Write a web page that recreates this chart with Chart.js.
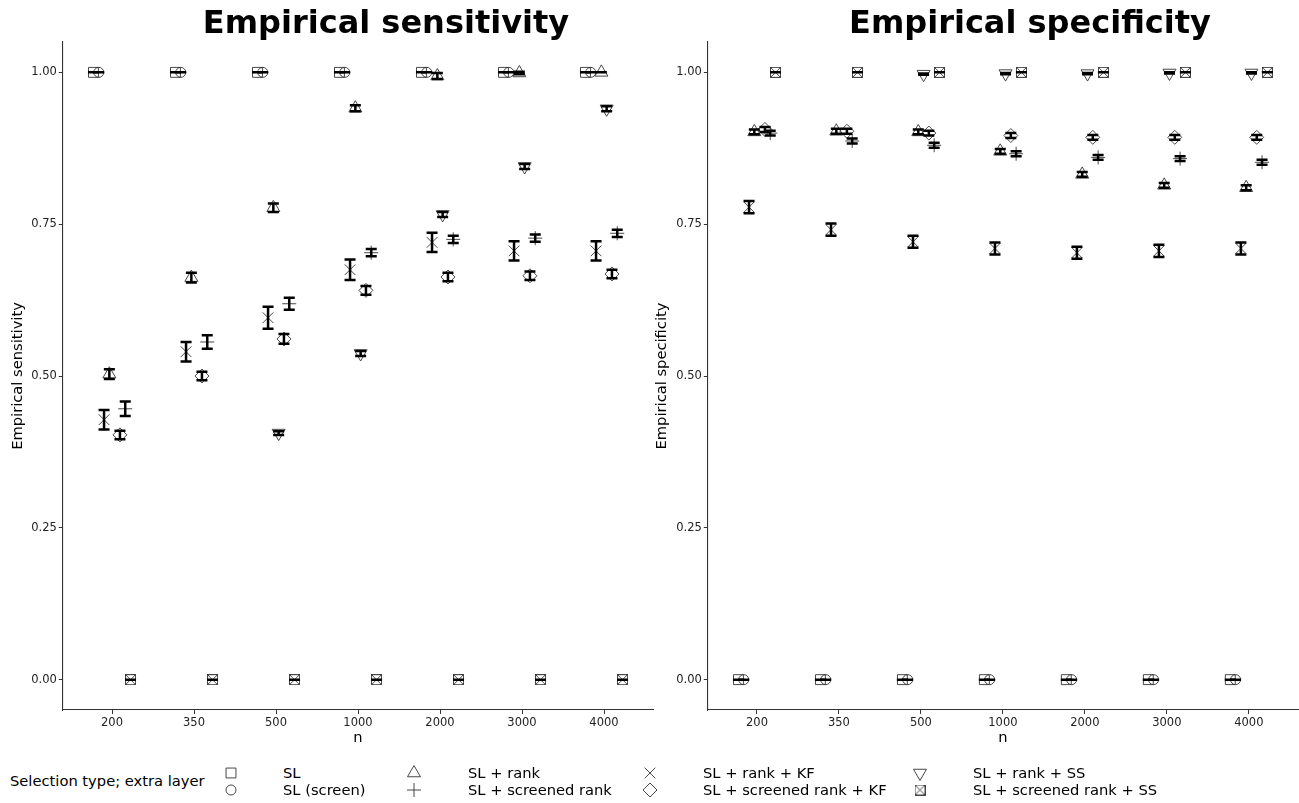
<!DOCTYPE html>
<html>
<head>
<meta charset="utf-8">
<script src="https://cdn.jsdelivr.net/npm/chart.js"></script>
<style>
    body { margin: 0; background: #fff; font-family: 'DejaVu Sans', sans-serif; }
    #page { position: relative; width: 1299px; height: 803px; overflow: hidden; }
    .panel { position: absolute; top: 0; height: 750px; }
    .title { position: absolute; top: 3px; transform: translateX(-50%); font-size: 32px; font-weight: bold; color: #000; white-space: nowrap; }
    .leg { position: absolute; font-size: 14.7px; color: #000; white-space: nowrap; line-height: 16px; }
    .sym { position: absolute; }
</style>
</head>
<body>
<div id="page">
    <div class="panel" style="left:0; width:655px"><canvas id="sens"></canvas></div>
    <div class="panel" style="left:644px; width:655px"><canvas id="spec"></canvas></div>
    <div class="title" style="left:386px">Empirical sensitivity</div>
    <div class="title" style="left:1030px">Empirical specificity</div>
    <div id="legend"></div>
</div>

<script>
    // sample sizes on the x axis
    const nLabels = ['200', '350', '500', '1000', '2000', '3000', '4000'];

    // selection types, in dodge order within each n
    const types = ['SL', 'SL (screen)', 'SL + rank + KF', 'SL + rank', 'SL + rank + SS',
                   'SL + screened rank + KF', 'SL + screened rank', 'SL + screened rank + SS'];

    const yTicks = [0, 0.25, 0.5, 0.75, 1];

    // sensitivity estimates and half-widths of the intervals
    const sensSL        = [1, 1, 1, 1, 1, 1, 1];
    const sensScreen    = [1, 1, 1, 1, 1, 1, 1];
    const sensRankKF    = [0.428, 0.540, 0.596, 0.675, 0.720, 0.706, 0.706];
    const sensRank      = [0.503, 0.662, 0.777, 0.941, 0.994, 0.999, 1.0];
    const sensRankSS    = [null, null, 0.406, 0.537, 0.766, 0.845, 0.940];
    const sensScrKF     = [0.403, 0.500, 0.561, 0.641, 0.663, 0.665, 0.668];
    const sensScr       = [0.446, 0.556, 0.619, 0.703, 0.725, 0.727, 0.735];
    const sensScrSS     = [0, 0, 0, 0, 0, 0, 0];

    const sensSLErr     = [0, 0, 0, 0, 0, 0, 0];
    const sensScreenErr = [0, 0, 0, 0, 0, 0, 0];
    const sensRankKFErr = [0.016, 0.016, 0.018, 0.017, 0.016, 0.016, 0.016];
    const sensRankErr   = [0.008, 0.008, 0.007, 0.005, 0.005, 0.002, 0];
    const sensRankSSErr = [null, null, 0.003, 0.004, 0.004, 0.004, 0.004];
    const sensScrKFErr  = [0.007, 0.007, 0.008, 0.007, 0.007, 0.007, 0.007];
    const sensScrErr    = [0.012, 0.011, 0.010, 0.006, 0.006, 0.006, 0.006];
    const sensScrSSErr  = [0, 0, 0, 0, 0, 0, 0];

    // specificity estimates and half-widths of the intervals
    const specSL        = [0, 0, 0, 0, 0, 0, 0];
    const specScreen    = [0, 0, 0, 0, 0, 0, 0];
    const specRankKF    = [0.778, 0.741, 0.721, 0.710, 0.703, 0.706, 0.710];
    const specRank      = [0.902, 0.903, 0.902, 0.870, 0.832, 0.814, 0.810];
    const specRankSS    = [null, null, 0.997, 0.998, 0.998, 0.999, 0.999];
    const specScrKF     = [0.906, 0.903, 0.900, 0.896, 0.893, 0.893, 0.893];
    const specScr       = [0.900, 0.887, 0.880, 0.866, 0.860, 0.858, 0.852];
    const specScrSS     = [1, 1, 1, 1, 1, 1, 1];

    const specSLErr     = [0, 0, 0, 0, 0, 0, 0];
    const specScreenErr = [0, 0, 0, 0, 0, 0, 0];
    const specRankKFErr = [0.010, 0.010, 0.010, 0.010, 0.010, 0.010, 0.010];
    const specRankErr   = [0.004, 0.004, 0.004, 0.004, 0.004, 0.004, 0.004];
    const specRankSSErr = [null, null, 0.001, 0.001, 0.001, 0.001, 0.001];
    const specScrKFErr  = [0.004, 0.004, 0.004, 0.004, 0.004, 0.004, 0.004];
    const specScrErr    = [0.004, 0.004, 0.004, 0.004, 0.004, 0.004, 0.004];
    const specScrSSErr  = [0, 0, 0, 0, 0, 0, 0];

    const sensVals = [sensSL, sensScreen, sensRankKF, sensRank, sensRankSS, sensScrKF, sensScr, sensScrSS];
    const sensErrs = [sensSLErr, sensScreenErr, sensRankKFErr, sensRankErr, sensRankSSErr, sensScrKFErr, sensScrErr, sensScrSSErr];
    const specVals = [specSL, specScreen, specRankKF, specRank, specRankSS, specScrKF, specScr, specScrSS];
    const specErrs = [specSLErr, specScreenErr, specRankKFErr, specRankErr, specRankSSErr, specScrKFErr, specScrErr, specScrSSErr];

    const ink = '#333';

    // square with an x inside, chart.js has no such point style
    const boxX = (() => {
        const c = document.createElement('canvas');
        c.width = 11; c.height = 11;
        const g = c.getContext('2d');
        g.strokeStyle = ink;
        g.lineWidth = 0.9;
        g.strokeRect(0.5, 0.5, 10, 10);
        g.beginPath();
        g.moveTo(0.5, 0.5); g.lineTo(10.5, 10.5);
        g.moveTo(10.5, 0.5); g.lineTo(0.5, 10.5);
        g.stroke();
        return c;
    })();

    const shapes = {
        'SL':                      {pointStyle: 'rect', radius: 7, rotation: 0},
        'SL (screen)':             {pointStyle: 'circle', radius: 5, rotation: 0},
        'SL + rank':               {pointStyle: 'triangle', radius: 7.5, rotation: 0},
        'SL + screened rank':      {pointStyle: 'cross', radius: 7, rotation: 0},
        'SL + rank + KF':          {pointStyle: 'crossRot', radius: 7.5, rotation: 0},
        'SL + screened rank + KF': {pointStyle: 'rectRot', radius: 7, rotation: 0},
        'SL + rank + SS':          {pointStyle: 'triangle', radius: 7.5, rotation: 180},
        'SL + screened rank + SS': {pointStyle: boxX, radius: 6, rotation: 0}
    };

    const dodgeStep = 0.0646;

    const makeDatasets = (vals, errs) => types.map((t, k) => {
        const off = (k - (types.length - 1) / 2) * dodgeStep;
        const pts = [];
        vals[k].forEach((v, i) => {
            if (v !== null) pts.push({x: i + off, y: v, err: errs[k][i]});
        });
        const s = shapes[t];
        return {
            label: t,
            data: pts,
            pointStyle: s.pointStyle,
            pointRadius: s.radius,
            rotation: s.rotation,
            borderColor: ink,
            backgroundColor: 'rgba(0,0,0,0)',
            borderWidth: 0.9,
            showLine: false
        };
    });

    // vertical interval with caps for every point
    const errorBars = {
        id: 'errorBars',
        afterDatasetsDraw(chart) {
            const {ctx, scales: {x, y}} = chart;
            ctx.save();
            ctx.strokeStyle = '#000';
            ctx.lineWidth = 2.5;
            chart.data.datasets.forEach(ds => {
                ds.data.forEach(p => {
                    if (p.err === null || p.err === undefined) return;
                    const px = x.getPixelForValue(p.x);
                    const lo = y.getPixelForValue(p.y - p.err);
                    const hi = y.getPixelForValue(p.y + p.err);
                    ctx.beginPath();
                    ctx.moveTo(px, lo); ctx.lineTo(px, hi);
                    ctx.moveTo(px - 5.5, lo); ctx.lineTo(px + 5.5, lo);
                    ctx.moveTo(px - 5.5, hi); ctx.lineTo(px + 5.5, hi);
                    ctx.stroke();
                });
            });
            ctx.restore();
        }
    };

    Chart.defaults.font.family = "'DejaVu Sans', sans-serif";
    Chart.defaults.color = '#222';

    const makeChart = (id, vals, errs, yTitle, axisWidth, padRight) => new Chart(document.getElementById(id), {
        type: 'scatter',
        data: {datasets: makeDatasets(vals, errs)},
        options: {
            responsive: true,
            maintainAspectRatio: false,
            animation: false,
            events: [],
            // the plot range already leaves room for the markers
            layout: {autoPadding: false, padding: {top: 42, right: padRight, bottom: 0, left: 0}},
            plugins: {legend: {display: false}, tooltip: {enabled: false}},
            scales: {
                x: {
                    type: 'linear',
                    min: -0.6,
                    max: 6.6,
                    afterBuildTicks: s => { s.ticks = nLabels.map((_, i) => ({value: i})); },
                    afterFit: s => { s.height = 40; s.paddingLeft = 0; s.paddingRight = 0; },
                    ticks: {callback: v => nLabels[v], font: {size: 11.5}, padding: 2, maxRotation: 0, color: '#222'},
                    grid: {drawOnChartArea: false, tickLength: 4, color: ink},
                    border: {color: ink, width: 1.1},
                    title: {display: true, text: 'n', font: {size: 14.7}, color: '#000', padding: {top: 0, bottom: 3}}
                },
                y: {
                    min: -0.05,
                    max: 1.05,
                    afterBuildTicks: s => { s.ticks = yTicks.map(v => ({value: v})); },
                    afterFit: s => { s.width = axisWidth; },
                    ticks: {callback: v => v.toFixed(2), font: {size: 11.5}, padding: 2, color: '#222'},
                    grid: {drawOnChartArea: false, tickLength: 4, color: ink},
                    border: {color: ink, width: 1.1},
                    title: {display: true, text: yTitle, font: {size: 14.7}, color: '#000', padding: {top: 9, bottom: 0}}
                }
            }
        },
        plugins: [errorBars]
    });

    makeChart('sens', sensVals, sensErrs, 'Empirical sensitivity', 62.8, 1.8);
    makeChart('spec', specVals, specErrs, 'Empirical specificity', 63.8, 1);

    // legend below both panels, two rows per column
    const legend = document.getElementById('legend');
    const legendCols = [
        ['SL', 'SL (screen)'],
        ['SL + rank', 'SL + screened rank'],
        ['SL + rank + KF', 'SL + screened rank + KF'],
        ['SL + rank + SS', 'SL + screened rank + SS']
    ];
    const symX = [231, 414, 650, 920];
    const textX = [283, 468, 703, 973];
    const rowY = [773, 790];

    const head = document.createElement('div');
    head.className = 'leg';
    head.style.left = '10px';
    head.style.top = (781 - 8) + 'px';
    head.textContent = 'Selection type; extra layer';
    legend.appendChild(head);

    legendCols.forEach((col, c) => {
        col.forEach((t, r) => {
            const cv = document.createElement('canvas');
            cv.width = 18; cv.height = 18;
            cv.className = 'sym';
            cv.style.left = (symX[c] - 9) + 'px';
            cv.style.top = (rowY[r] - 9) + 'px';
            const g = cv.getContext('2d');
            g.strokeStyle = ink;
            g.fillStyle = 'rgba(0,0,0,0)';
            g.lineWidth = 0.9;
            const s = shapes[t];
            Chart.helpers.drawPoint(g, {pointStyle: s.pointStyle, radius: s.radius, rotation: s.rotation, borderWidth: 0.9}, 9, 9);
            legend.appendChild(cv);

            const lab = document.createElement('div');
            lab.className = 'leg';
            lab.style.left = textX[c] + 'px';
            lab.style.top = (rowY[r] - 8) + 'px';
            lab.textContent = t;
            legend.appendChild(lab);
        });
    });
</script>
</body>
</html>
